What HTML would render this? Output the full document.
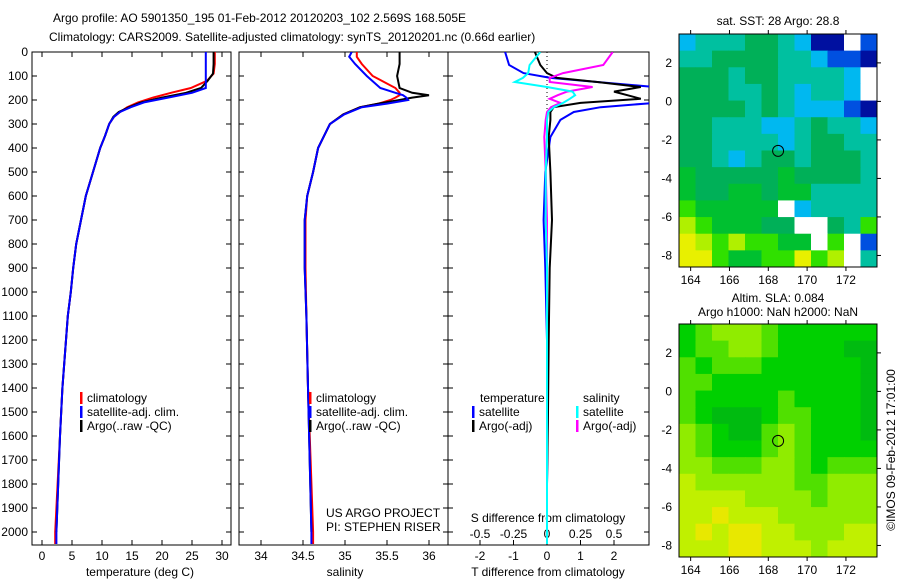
<!DOCTYPE html>
<html><head><meta charset="utf-8"><style>
body{margin:0;background:#fff}
svg{display:block;font-family:"Liberation Sans",sans-serif;font-size:12px}
</style></head><body>
<svg id="fig" width="900" height="580" viewBox="0 0 900 580">
<text x="53" y="22">Argo profile: AO 5901350_195 01-Feb-2012 20120203_102 2.569S 168.505E</text>
<text x="49" y="41">Climatology: CARS2009. Satellite-adjusted climatology: synTS_20120201.nc (0.66d earlier)</text>
<g id="g"></g>
</svg>
<script>
// ---- data ----
const depthT=[0,50,90,120,150,170,190,210,230,250,270,300,350,400,500,600,700,800,900,1000,1100,1200,1400,1600,1800,2000,2050];
const climT=[28.8,28.8,28.6,27.5,24.8,21.5,18.5,16,14.2,13,12,11.2,10.5,9.7,8.5,7.3,6.5,5.7,5.2,4.8,4.3,4.0,3.4,3.0,2.6,2.2,2.2];
const satT=[27.3,27.3,27.3,27.3,27.3,25,21,17,14.8,13,12,11.2,10.5,9.7,8.5,7.3,6.5,5.7,5.2,4.8,4.3,4.0,3.4,3.0,2.7,2.4,2.4];
const argoT=[28.6,28.6,28.5,27.6,26.5,24,20,16.5,14.5,12.8,11.9,11.2,10.5,9.7,8.5,7.3,6.5,5.7,5.2,4.8,4.3,4.0,3.4,3.0,2.7,2.4];
const depthS=[0,20,50,100,150,170,180,190,200,215,230,260,300,400,500,600,700,900,1100,1400,1700,2000,2050];
const climS=[35.14,35.14,35.2,35.33,35.6,35.65,35.65,35.6,35.54,35.4,35.18,34.98,34.82,34.68,34.62,34.55,34.53,34.53,34.54,34.56,34.59,34.62,34.62];
const satS=[35.08,35.05,35.12,35.26,35.42,35.6,35.69,35.73,35.75,35.5,35.2,34.99,34.82,34.68,34.62,34.55,34.52,34.52,34.54,34.56,34.58,34.6,34.6];
const argoS=[35.65,35.65,35.65,35.62,35.65,35.8,36.0,35.8,35.65,35.4,35.18,34.98,34.82,34.68,34.62,34.55,34.52,34.52,34.54,34.56,34.58,34.6];
const depthD=[0,54,88,108,125,146,165,180,195,212,230,250,283,354,500,700,900,1200,1500,1800,2050];
const dTsat=[-1.25,-1.13,-0.7,0.1,1.5,3.2,3.2,3.2,3.2,3.2,1.6,0.8,0.4,0.1,-0.05,-0.1,-0.05,0,0.02,0,0];
const dTargo=[-0.36,-0.2,0,0.3,1.5,2.8,2,2.4,2.8,1,0.2,0.1,0.1,0.05,0.1,0.15,0.08,0.05,0.03,0,0];
const dSsat=[-0.05,-0.13,-0.14,-0.18,-0.24,0,0.19,0.21,0.17,0.12,0.05,0.01,0,0,-0.01,-0.01,0,0,0,0,0];
const dSargo=[0.49,0.42,0.12,0.02,0.02,0.34,0.15,0.08,0.02,0.1,0.03,0,-0.01,-0.02,-0.01,0,0,0,0,0,0];
const depthTicks=[0,100,200,300,400,500,600,700,800,900,1000,1100,1200,1300,1400,1500,1600,1700,1800,1900,2000];
const tTicks=[0,5,10,15,20,25,30];
const sTicks=[34,34.5,35,35.5,36];
const dTTicks=[-2,-1,0,1,2];
const dSTicks=[-0.5,-0.25,0,0.25,0.5];
const dSTickLabels=["-0.5","-0.25","0","0.25","0.5"];
const lonTicks=[164,166,168,170,172];
const latTicks=[2,0,-2,-4,-6,-8];
const sstGrid=["344455431102","445555443221","555455444430","555445434430","555545433321","554443345443","554444345544","554345545554","655555655554","655665664444","766666034444","876665500547","987877660702","997667797804"];
const slaGrid=["123332111111","122332111100","212221111110","221111111110","211111211110","210001221110","321002321110","321112321111","332223321222","433333322333","444433332333","445444333333","454554433344","444554443444"];
// ---- scales ----
const PY0=52,PY1=545;
const yD=d=>52+d*0.24;
const xT=v=>42+v*6;
const xS=v=>261+(v-34)*84;
const xDT=v=>547+v*33.5;
const xDS=v=>547+v*134;
const NS="http://www.w3.org/2000/svg";
const G=document.getElementById('g');
function mk(tag,attrs,name,parent){const e=document.createElementNS(NS,tag);for(const k in attrs)e.setAttribute(k,attrs[k]);


(parent||G).appendChild(e);return e;}
function txt(x,y,s,name,anchor,extra){const t=mk('text',Object.assign({x:x,y:y,'text-anchor':anchor||'start'},extra||{}),name);t.textContent=s;return t;}
function panel(x0,x1,name){
  const clip=mk('clipPath',{id:'c'+name},'clip-'+name);
  mk('rect',{x:x0,y:PY0,width:x1-x0,height:PY1-PY0},'clip-rect',clip);
  mk('rect',{x:x0,y:PY0,width:x1-x0,height:PY1-PY0,fill:'none',stroke:'#000','stroke-width':1},name+'-frame');
  depthTicks.forEach(d=>{const y=yD(d);
    mk('line',{x1:x0,x2:x0+5,y1:y,y2:y,stroke:'#000'},name+'-ytick');
    mk('line',{x1:x1-5,x2:x1,y1:y,y2:y,stroke:'#000'},name+'-ytick');});
}
function series(depths,vals,xf,color,name,panelName,w){
  let d='';for(let i=0;i<vals.length;i++){d+=(i?'L':'M')+xf(vals[i]).toFixed(1)+','+yD(depths[i]).toFixed(1);}
  mk('path',{d:d,fill:'none',stroke:color,'stroke-width':w||2,'clip-path':'url(#c'+panelName+')'},name);
}
function xticks(x0,ticks,xf,labels,y,name,top){ticks.forEach((v,i)=>{const x=xf(v);
  mk('line',{x1:x,x2:x,y1:PY1,y2:PY1-5,stroke:'#000'},name+'-tick');
  if(top) mk('line',{x1:x,x2:x,y1:PY0,y2:PY0+5,stroke:'#000'},name+'-tick');
  txt(x,y,labels?labels[i]:String(v),name+'-label','middle');});}
// panel 1
panel(32,231,'temp-panel');
depthTicks.forEach(d=>txt(28,yD(d)+4,String(d),'depth-tick-label','end'));
xticks(32,tTicks,xT,null,560,'temp-axis',true);
txt(140,576,'temperature (deg C)','temp-axis-title','middle');
series(depthT,climT,xT,'#f00','temp-climatology-line','temp-panel');
series(depthT,argoT,xT,'#000','temp-argo-line','temp-panel');
series(depthT,satT,xT,'#00f','temp-satellite-line','temp-panel');
// panel 2
panel(239,448,'sal-panel');
xticks(239,sTicks,xS,null,560,'sal-axis',true);
txt(345,576,'salinity','sal-axis-title','middle');
series(depthS,climS,xS,'#f00','sal-climatology-line','sal-panel');
series(depthS,argoS,xS,'#000','sal-argo-line','sal-panel');
series(depthS,satS,xS,'#00f','sal-satellite-line','sal-panel');
// panel 3
panel(448,649,'diff-panel');
xticks(448,dTTicks,xDT,null,560,'tdiff-axis',false);
dSTicks.forEach((v,i)=>txt(xDS(v),538,dSTickLabels[i],'sdiff-axis-label','middle'));
txt(548,522,'S difference from climatology','sdiff-axis-title','middle');
txt(548,576,'T difference from climatology','tdiff-axis-title','middle');
mk('line',{x1:547,x2:547,y1:PY0,y2:yD(260),stroke:'#000','stroke-dasharray':'1,3'},'zero-line');
series(depthD,dTsat,xDT,'#00f','tdiff-satellite-line','diff-panel');
series(depthD,dTargo,xDT,'#000','tdiff-argo-line','diff-panel');
series(depthD,dSargo,xDS,'#f0f','sdiff-argo-line','diff-panel');
series(depthD,dSsat,xDS,'#0ff','sdiff-satellite-line','diff-panel');
// legends
function leg(x,y,color,label,name){mk('rect',{x:x,y:y-10,width:2.5,height:12,fill:color},name+'-swatch');txt(x+7,y,label,name);}
leg(80,402,'#f00','climatology','legend-temp-climatology');
leg(80,416,'#00f','satellite-adj. clim.','legend-temp-satellite');
leg(80,430,'#000','Argo(..raw -QC)','legend-temp-argo');
leg(309,402,'#f00','climatology','legend-sal-climatology');
leg(309,416,'#00f','satellite-adj. clim.','legend-sal-satellite');
leg(309,430,'#000','Argo(..raw -QC)','legend-sal-argo');
txt(480,402,'temperature','legend-temp-header');
txt(583,402,'salinity','legend-sal-header');
leg(472,416,'#00f','satellite','legend-tdiff-satellite');
leg(472,430,'#000','Argo(-adj)','legend-tdiff-argo');
leg(576,416,'#0ff','satellite','legend-sdiff-satellite');
leg(576,430,'#f0f','Argo(-adj)','legend-sdiff-argo');
txt(326,517,'US ARGO PROJECT','project-label');
txt(326,531,'PI: STEPHEN RISER','pi-label');
// maps
const sstPal={'0':'#ffffff','1':'#0010a0','2':'#0050e0','3':'#00b8f0','4':'#00c0a0','5':'#00b058','6':'#00c030','7':'#30e000','8':'#b0f000','9':'#e8f000'};
const slaPal={'0':'#00bb10','1':'#00d000','2':'#50e000','3':'#90ec00','4':'#c0f000','5':'#e8e800'};
function map(y0,y1,grid,pal,name){
  const x0=679,x1=877,lonA=163.4,lonB=173.6,latA=3.5,latB=-8.6;
  const lx=v=>x0+(v-lonA)/(lonB-lonA)*(x1-x0);
  const ly=v=>y0+(latA-v)/(latA-latB)*(y1-y0);
  const rows=grid.length,cols=grid[0].length,cw=(x1-x0)/cols,ch=(y1-y0)/rows;
  grid.forEach((r,i)=>{for(let j=0;j<cols;j++){mk('rect',{x:x0+j*cw,y:y0+i*ch,width:cw+0.5,height:ch+0.5,fill:pal[r[j]]},name+'-cell');}});
  mk('rect',{x:x0,y:y0,width:x1-x0,height:y1-y0,fill:'none',stroke:'#000'},name+'-frame');
  lonTicks.forEach(v=>{const x=lx(v);mk('line',{x1:x,x2:x,y1:y0,y2:y0-4,stroke:'#000'},name+'-lon-tick');mk('line',{x1:x,x2:x,y1:y1,y2:y1+4,stroke:'#000'},name+'-lon-tick');txt(x,y1+17,String(v),name+'-lon-label','middle');});
  latTicks.forEach(v=>{const y=ly(v);mk('line',{x1:x1,x2:x1+4,y1:y,y2:y,stroke:'#000'},name+'-lat-tick');txt(x0-7,y+4,String(v),name+'-lat-label','end');});
  mk('circle',{cx:lx(168.505),cy:ly(-2.569),r:5.5,fill:'none',stroke:'#000'},name+'-argo-location');
}
map(34,267,sstGrid,sstPal,'sst-map');
txt(778,25,'sat. SST: 28 Argo: 28.8','sst-map-title','middle');
map(324,557,slaGrid,slaPal,'sla-map');
txt(778,302,'Altim. SLA: 0.084','sla-map-title','middle');
txt(778,316,'Argo h1000: NaN h2000: NaN','sla-map-subtitle','middle');
txt(0,0,'©IMOS 09-Feb-2012 17:01:00','imos-credit','middle',{transform:'translate(895,450) rotate(-90)'});
</script>
</body></html>
